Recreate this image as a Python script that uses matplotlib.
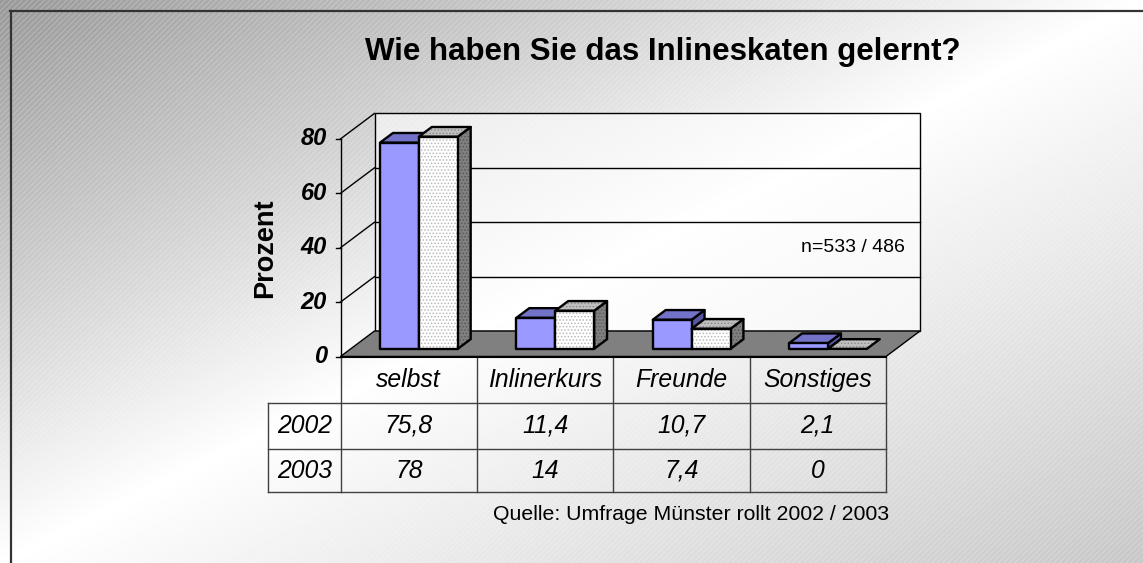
import numpy as np
import matplotlib
matplotlib.use('Agg')
import matplotlib.pyplot as plt
from matplotlib.patches import Polygon, Rectangle

# ---------------- data ----------------
categories = ['selbst', 'Inlinerkurs', 'Freunde', 'Sonstiges']
years = ['2002', '2003']
values_2002 = [75.8, 11.4, 10.7, 2.1]
values_2003 = [78, 14, 7.4, 0]
y_ticks = [0, 20, 40, 60, 80]
title = 'Wie haben Sie das Inlineskaten gelernt?'
y_label = 'Prozent'
note = 'n=533 / 486'
source = 'Quelle: Umfrage Münster rollt 2002 / 2003'

plt.rcParams['font.family'] = ['Liberation Sans', 'DejaVu Sans']
plt.rcParams['hatch.linewidth'] = 0.7

W, H = 1143, 563
fig = plt.figure(figsize=(W / 100, H / 100), dpi=100)

# ---------------- background ----------------
bg = fig.add_axes([0, 0, 1, 1])
bg.set_axis_off()
xx = np.linspace(0, 1, 400)
yy = np.linspace(0, 1, 200)
X, Y = np.meshgrid(xx, yy)
t = (X + Y) / 2
g = np.where(t < 0.5, 0.6 + 0.4 * (t / 0.5), 1.0 - 0.22 * ((t - 0.5) / 0.5))
bg.imshow(g, cmap='gray', vmin=0, vmax=1, extent=[0, W, H, 0], aspect='auto',
          interpolation='bilinear')
bg.add_patch(Rectangle((0, 0), W, H, facecolor='none', edgecolor=(1, 1, 1, 0.25),
                       hatch='//////', lw=0))
bg.plot([10.5, 10.5], [11, H], color='#333333', lw=1.6)
bg.plot([10, W], [11, 11], color='#333333', lw=1.6)
bg.set_xlim(0, W)
bg.set_ylim(H, 0)

# ---------------- main 3D-ish chart axes ----------------
x0p, x1p, y0p, ppu = 340.5, 886.0, 356.5, 2.72
ax = fig.add_axes([x0p / W, (H - y0p) / H, (x1p - x0p) / W, 80 * ppu / H])
ax.set_xlim(0, 4)
ax.set_ylim(0, 80)
ax.set_axis_off()
ncat = len(categories)
cpx = (x1p - x0p) / ncat
DX = 34 / cpx
DY = 25.5 / ppu
ymax = y_ticks[-1]

def poly(pts, **kw):
    p = Polygon(pts, closed=True, clip_on=False, **kw)
    ax.add_patch(p)
    return p

# back wall
poly([(DX, DY), (ncat + DX, DY), (ncat + DX, ymax + DY), (DX, ymax + DY)],
     facecolor=(1, 1, 1, 0.6), edgecolor='black', lw=1.0, zorder=1)
for v in y_ticks[1:-1]:
    ax.plot([DX, ncat + DX], [v + DY, v + DY], color='black', lw=1.0, clip_on=False, zorder=1)
for v in y_ticks[1:]:
    ax.plot([0, DX], [v, v + DY], color='black', lw=1.0, clip_on=False, zorder=1)

# floor
poly([(0, 0), (ncat, 0), (ncat + DX, DY), (DX, DY)], facecolor='#808080',
     edgecolor='black', lw=1.0, zorder=2)

# front axis + ticks
ax.plot([0, 0], [0, ymax], color='black', lw=1.0, clip_on=False, zorder=2)
tl = 5 / cpx
for v in y_ticks:
    ax.plot([-tl, 0], [v, v], color='black', lw=1.0, clip_on=False, zorder=2)
    ax.text(-13.5 / cpx, v, str(v), ha='right', va='center', fontsize=17,
            fontweight='bold', fontstyle='italic', zorder=3)

# bars
w = 0.285
f0, f1 = 0.30, 0.68
styles = {
    '2002': dict(front='#9999FF', top='#7272C8', side='#5656A0', hatch=None),
    '2003': dict(front='#FFFFFF', top='#C0C0C0', side='#808080', hatch='.....'),
}
hatch_col = {'2002': None, '2003': ('#B8B8B8', '#8C8C8C', '#5A5A5A')}

def bar3d(xl, xr, v, st, hc, z):
    ox0, oy0 = f0 * DX, f0 * DY
    ox1, oy1 = f1 * DX, f1 * DY
    front = [(xl + ox0, oy0), (xr + ox0, oy0), (xr + ox0, v + oy0), (xl + ox0, v + oy0)]
    top = [(xl + ox0, v + oy0), (xr + ox0, v + oy0), (xr + ox1, v + oy1), (xl + ox1, v + oy1)]
    side = [(xr + ox0, oy0), (xr + ox1, oy1), (xr + ox1, v + oy1), (xr + ox0, v + oy0)]
    faces = [(side, st['side'], 2), (top, st['top'], 1)]
    if v > 0:
        faces.append((front, st['front'], 0))
    for pts, fc, hi in faces:
        if v <= 0 and pts is side:
            continue
        poly(pts, facecolor=fc, edgecolor='none', lw=0, zorder=z)
        if st['hatch']:
            poly(pts, facecolor='none', edgecolor=hc[hi], hatch=st['hatch'], lw=0, zorder=z)
        poly(pts, facecolor='none', edgecolor='black', lw=1.7, joinstyle='round', zorder=z)

z = 4
for i in range(ncat):
    c = i + 0.5
    bar3d(c - w, c, values_2002[i], styles['2002'], None, z)
    z += 1
    bar3d(c, c + w, values_2003[i], styles['2003'], hatch_col['2003'], z)
    z += 1

# ---------------- data table ----------------
r1 = (y0p - 403) / ppu
r2 = (y0p - 449) / ppu
r3 = (y0p - 492) / ppu
xl_tab = (268.3 - x0p) / cpx
tc = '#404040'
for yv in (r1, r2, r3):
    ax.plot([xl_tab, ncat], [yv, yv], color=tc, lw=1.0, clip_on=False, zorder=2)
for xv in range(ncat + 1):
    ax.plot([xv, xv], [0, r3], color=tc, lw=1.0, clip_on=False, zorder=2)
ax.plot([xl_tab, xl_tab], [r1, r3], color=tc, lw=1.0, clip_on=False, zorder=2)
ax.plot([0, ncat], [0, 0], color='black', lw=1.5, clip_on=False, zorder=3)

def fmt(v):
    s = ('%g' % v)
    return s.replace('.', ',')

fs = 17.8
for i, cat in enumerate(categories):
    ax.text(i + 0.5, (0 + r1) / 2, cat, ha='center', va='center', fontsize=fs,
            fontstyle='italic', zorder=3)
    ax.text(i + 0.5, (r1 + r2) / 2, fmt(values_2002[i]), ha='center', va='center',
            fontsize=fs, fontstyle='italic', zorder=3)
    ax.text(i + 0.5, (r2 + r3) / 2, fmt(values_2003[i]), ha='center', va='center',
            fontsize=fs, fontstyle='italic', zorder=3)
ax.text(xl_tab / 2, (r1 + r2) / 2, years[0], ha='center', va='center', fontsize=fs,
        fontstyle='italic', zorder=3)
ax.text(xl_tab / 2, (r2 + r3) / 2, years[1], ha='center', va='center', fontsize=fs,
        fontstyle='italic', zorder=3)

# ---------------- texts ----------------
fig.text(663 / W, 1 - 52 / H, title, ha='center', va='center', fontsize=22.5,
         fontweight='bold')
fig.text(265 / W, 1 - 248 / H, y_label, ha='center', va='center', rotation=90,
         fontsize=19.5, fontweight='bold')
fig.text(905 / W, 1 - 247 / H, note, ha='right', va='center', fontsize=14)
fig.text(889 / W, 1 - 515 / H, source, ha='right', va='center', fontsize=15.3)

fig.savefig('out.png', dpi=100)
